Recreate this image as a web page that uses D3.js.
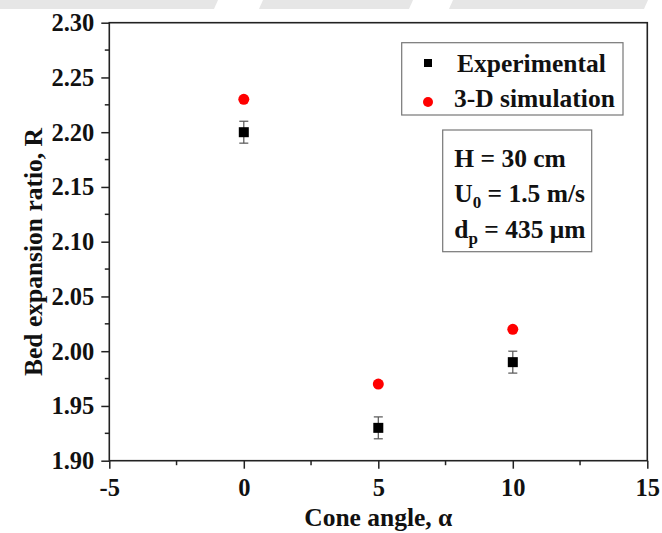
<!DOCTYPE html>
<html>
<head>
<meta charset="utf-8">
<script src="https://cdn.jsdelivr.net/npm/d3@7"></script>
<style>
  body { margin: 0; background: #fff; }
  svg text { font-family: "Liberation Serif", "Times New Roman", serif; font-weight: bold; fill: #111; }
</style>
</head>
<body>
<svg id="chart" width="662" height="533"></svg>
<script>
// ---------------------------
// Bed expansion ratio vs cone angle
// ---------------------------

const coneAngles = [0, 5, 10];
const experimental = [2.20, 1.93, 1.99];
const experimentalErr = [0.01, 0.01, 0.01];
const simulation = [2.23, 1.97, 2.02];

const xTicks = [-5, 0, 5, 10, 15];
const yTicks = [1.90, 1.95, 2.00, 2.05, 2.10, 2.15, 2.20, 2.25, 2.30];

const legendLabels = ["Experimental", "3-D simulation"];

const width = 662, height = 533;
const margin = { top: 22.7, right: 14.7, bottom: 72.3, left: 109.3 };

const svg = d3.select("#chart");

// faint watermark band along the top
const band = [[0, 0, 218, 0, 214, 9, 0, 9], [263, 0, 413, 0, 409, 9, 259, 9], [453, 0, 648, 0, 644, 9, 449, 9]];
svg.append("g").selectAll("polygon").data(band).enter().append("polygon")
    .attr("points", d => d3.range(0, d.length, 2).map(i => d[i] + "," + d[i + 1]).join(" "))
    .attr("fill", "#e6e6e6");

const x = d3.scaleLinear().domain([-5, 15]).range([margin.left, width - margin.right]);
const y = d3.scaleLinear().domain([1.90, 2.30]).range([height - margin.bottom, margin.top]);

const g = svg.append("g");

// minor ticks (half steps)
const xMinor = d3.range(-2.5, 15, 5);
const yMinor = d3.range(1.925, 2.30, 0.05);

g.append("g").selectAll("line").data(xMinor).enter().append("line")
    .attr("x1", d => x(d)).attr("x2", d => x(d))
    .attr("y1", y(1.90)).attr("y2", y(1.90) + 4.5)
    .attr("stroke", "#222").attr("stroke-width", 1.5);
g.append("g").selectAll("line").data(yMinor).enter().append("line")
    .attr("y1", d => y(d)).attr("y2", d => y(d))
    .attr("x1", x(-5)).attr("x2", x(-5) - 4.5)
    .attr("stroke", "#222").attr("stroke-width", 1.5);

// axes
const xAxis = d3.axisBottom(x).tickValues(xTicks).tickSize(8).tickPadding(10).tickFormat(d3.format("d"));
const yAxis = d3.axisLeft(y).tickValues(yTicks).tickSize(8).tickPadding(7).tickFormat(d3.format(".2f"));

const xg = g.append("g").attr("transform", `translate(0,${y(1.90)})`).call(xAxis);
const yg = g.append("g").attr("transform", `translate(${x(-5)},0)`).call(yAxis);

[xg, yg].forEach(a => {
    a.attr("font-family", null).attr("font-size", null);
    a.select(".domain").remove();
    a.selectAll(".tick line").attr("stroke", "#222").attr("stroke-width", 1.5);
    a.selectAll(".tick text")
        .style("font-family", '"Liberation Serif", serif')
        .style("font-weight", "bold")
        .style("font-size", "24.5px")
        .attr("fill", "#111");
});
xg.selectAll(".tick text").text(d => d < 0 ? "-" + Math.abs(d) : d);

// frame
g.append("rect")
    .attr("x", x(-5)).attr("y", y(2.30))
    .attr("width", x(15) - x(-5)).attr("height", y(1.90) - y(2.30))
    .attr("fill", "none").attr("stroke", "#222").attr("stroke-width", 1.6);

// axis titles
svg.append("text")
    .attr("x", (x(-5) + x(15)) / 2).attr("y", 526)
    .attr("text-anchor", "middle").style("font-size", "25.5px")
    .text("Cone angle, α");
svg.append("text")
    .attr("transform", "translate(42,252) rotate(-90)")
    .attr("text-anchor", "middle").style("font-size", "25.5px")
    .text("Bed expansion ratio, R");

// error bars
const errs = g.append("g").selectAll("g").data(coneAngles).enter().append("g")
    .attr("stroke", "#555").attr("stroke-width", 1.2);
errs.append("line")
    .attr("x1", d => x(d)).attr("x2", d => x(d))
    .attr("y1", (d, i) => y(experimental[i] - experimentalErr[i]))
    .attr("y2", (d, i) => y(experimental[i] + experimentalErr[i]));
[-1, 1].forEach(s => {
    errs.append("line")
        .attr("x1", d => x(d) - 4.5).attr("x2", d => x(d) + 4.5)
        .attr("y1", (d, i) => y(experimental[i] + s * experimentalErr[i]))
        .attr("y2", (d, i) => y(experimental[i] + s * experimentalErr[i]));
});

// experimental squares
g.append("g").selectAll("rect").data(coneAngles).enter().append("rect")
    .attr("x", d => x(d) - 5).attr("y", (d, i) => y(experimental[i]) - 5)
    .attr("width", 10).attr("height", 10).attr("fill", "#000");

// simulation circles
g.append("g").selectAll("circle").data(coneAngles).enter().append("circle")
    .attr("cx", d => x(d)).attr("cy", (d, i) => y(simulation[i]))
    .attr("r", 5.5).attr("fill", "#ff0000");

// legend
const leg = svg.append("g");
leg.append("rect").attr("x", 401.7).attr("y", 42.7).attr("width", 221.3).attr("height", 72.3)
    .attr("fill", "#fff").attr("stroke", "#777").attr("stroke-width", 1.2);
leg.append("rect").attr("x", 424).attr("y", 59).attr("width", 8).attr("height", 8).attr("fill", "#000");
leg.append("circle").attr("cx", 428).attr("cy", 102).attr("r", 5).attr("fill", "#ff0000");
leg.selectAll("text").data(legendLabels).enter().append("text")
    .attr("x", (d, i) => i === 0 ? 457 : 454).attr("y", (d, i) => 72 + i * 35)
    .style("font-size", "25.5px").text(d => d);

// condition box
const info = svg.append("g");
info.append("rect").attr("x", 442.7).attr("y", 130).attr("width", 149).attr("height", 121.7)
    .attr("fill", "#fff").attr("stroke", "#777").attr("stroke-width", 1.2);
const t1 = info.append("text").attr("x", 454.3).attr("y", 166.7).style("font-size", "25.5px");
t1.text("H = 30 cm");
const t2 = info.append("text").attr("x", 454.3).attr("y", 201.7).style("font-size", "25.5px");
t2.append("tspan").text("U");
t2.append("tspan").attr("dy", 6).style("font-size", "17px").text("0");
t2.append("tspan").attr("dy", -6).text(" = 1.5 m/s");
const t3 = info.append("text").attr("x", 454.3).attr("y", 238).style("font-size", "25.5px");
t3.append("tspan").text("d");
t3.append("tspan").attr("dy", 6).style("font-size", "17px").text("p");
t3.append("tspan").attr("dy", -6).text(" = 435 μm");
</script>
</body>
</html>
